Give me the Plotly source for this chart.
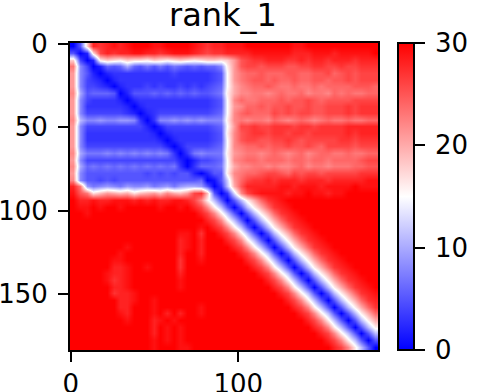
import plotly.graph_objects as go

TITLE = "rank_1"
N_RESIDUES = 184
CELL = 4
X_TICKS = [0, 100]
Y_TICKS = [0, 50, 100, 150]
CBAR_TICKS = [0, 10, 20, 30]
BWR = [[0, "#0000ff"], [0.5, "#ffffff"], [1, "#ff0000"]]

# Estimated values, one base-31 digit per 4x4 residue cell (0-9, a=10 ... u=30)
ROWS = [
    "05isrststu uuttuuuuts rsstttuuuu uuuttuuuuu uuuuuu",
    "502hqsrsst tssrstttsr qrrssssttt tttsssttts tttttu",
    "i402gihgih hgihghihgh iihilpqrrs ssrrsrssrs ssrsss",
    "n8402656a6 5757576565 668glpqqpq qqppqqrrqq rqqrrr",
    "l852023333 3333343333 345flnoopo ooppooppqo pqpqqq",
    "l843202333 3333333333 345flnoppo poopooppop pqpqqq",
    "l844320233 3434334343 456fkmnoop onnonnonoo oopppo",
    "ma56665025 5565656565 567gkmmnnm nonnomnnmo nonnoo",
    "l843333202 3333333333 345fmonnoo opoppqpopp ppqqqq",
    "l833333320 2333333333 345flmoopo ppqppqppqq qrqrrr",
    "l844444432 0234444444 456fmopooo qpqpqqppqq qrqrrr",
    "mb88988998 3038898989 888gmnmnnm onmnonmnon nonnoo",
    "l844444444 4202444444 456flqqrqq rrrqrrqrrr rsssss",
    "l833333333 3320233333 345gmpqrrq rrqrrqrrrr rsrsss",
    "l833333333 3332023333 345fmpqqpp qqrqpqqqqq rrqrrr",
    "l844444444 4444202444 456fmnoopo ppqppqpoqq qqpqqq",
    "ma77787878 7878730378 777glmnnmn onmnomnoon nonnoo",
    "l844444444 4444442024 456fmnoono oonoonoono ooopqq",
    "ma67676767 6767673036 667fkmmnnm nmmnomnnmn nnoopp",
    "l855555555 5454545520 255gmnoopq qpoqpqqpqq qqqrrr",
    "m855454555 5555555556 015cloqrrs rsssrsssrs sssstt",
    "sn97898798 8978979aa9 503bkpssss sttstttstt ttuttt",
    "tpnhjlkjkh jkljmkjlqr j503dmqstt ttsttuttst tuuuuu",
    "usstssttts tstssttsqm gb505bgkor stuuuuuuuu uuuuuu",
    "uttutuutuu uuutuutusq mgb505bgko rstuuuuuuu uuuuuu",
    "uutuuuuuuu uuuuuuuuus qmgb505bgk orstuuuuuu uuuuuu",
    "uuuuuuuuuu uuuuuuuuuu sqmgb505bg korstuuuuu uuuuuu",
    "uuuuuuuuuu uuuuuuuuut usqmgb505b gkorstuuuu uuuuuu",
    "uuuuuuuuuu uuuuuuttur uusqmgb505 bgkorstuuu uuuuuu",
    "uuuuuuuuuu uuuuuustus uuusqmgb50 5bgkorstuu uuuuuu",
    "uuuuuuuutu uuuuuustus uuuusqmgb5 05bgkorstu uuuuuu",
    "uuuuuuutuu uuuuuusuus uuuuusqmgb 505bgkorst uuuuuu",
    "uuuuuuttuu uuuuuuruut uuuuuusqmg b505bgkors tuuuuu",
    "uuuuuusstu utuuuuruuu uuuuuuusqm gb505bgkor stuuuu",
    "uuuuutsstu uuuuuusuuu uuuuuuuusq mgb505bgko rstuuu",
    "uuuuutrstu uuuuuutuuu uuuuuuuuus qmgb505bgk orstuu",
    "uuuuuusstu uuuuuutuuu uuuuuuuuuu sqmgb505bg korstu",
    "uuuuuursst uuuuuuuuuu uuuuuuuuuu usqmgb505b gkorst",
    "uuuuuuusst uutuuuuuuu uuuuuuuuuu uusqmgb505 bgkors",
    "uuuuuuussu uutuuuuuut uuuuuuuuuu uuusqmgb50 5bgkor",
    "uuuuuuutsu uutususuut uuuuuuuuuu uuuusqmgb5 05bgko",
    "uuuuuuuutu uustutuuuu uuuuuuuuuu uuuuusqmgb 505bgk",
    "uuuuuuuuuu uusututuuu uuuuuuuuuu uuuuuusqmg b505bg",
    "uuuuuuuuuu uusututuuu uuuuuuuuuu uuuuuuusqm gb505b",
    "uuuuuuuuuu uutututuuu uuuuuuuuuu uuuuuuuusq mgb505",
    "uuuuuuuuuu uutuuuttuu uuuuuuuuuu uuuuuuuuus qmgb50",
]

z = [[int(ch, 31) for ch in row.replace(" ", "")] for row in ROWS]
for i, r in enumerate(z):
    assert len(r) == 46, (i, len(r))
centers = [CELL * i + 1.5 for i in range(len(z))]

FONT = "DejaVu Sans"
fig = go.Figure(go.Heatmap(
    z=z, x=centers, y=centers, zmin=0, zmax=30, colorscale=BWR, zsmooth="best",
    colorbar=dict(
        x=1.065, xanchor="left", xpad=0, y=0.5, yanchor="middle", ypad=0,
        len=1, lenmode="fraction", thickness=16, thicknessmode="pixels",
        outlinecolor="black", outlinewidth=2, borderwidth=0,
        tickmode="array", tickvals=CBAR_TICKS, ticktext=[f"\u2009{t}" for t in CBAR_TICKS],
        ticks="outside", ticklen=10, tickwidth=2, tickcolor="black",
        tickfont=dict(family=FONT, size=26, color="black"),
    ),
))
axis = dict(
    showgrid=False, zeroline=False, mirror=True, showline=True, linecolor="black", linewidth=2,
    ticks="outside", ticklen=10, tickwidth=2, tickcolor="black",
    tickfont=dict(family=FONT, size=26, color="black"), tickmode="array",
)
fig.update_xaxes(range=[-0.5, N_RESIDUES - 0.5], tickvals=X_TICKS, **axis)
fig.update_yaxes(range=[N_RESIDUES - 0.5, -0.5], tickvals=Y_TICKS, ticklabelstandoff=5, **axis)
fig.update_layout(
    width=478, height=392, autosize=False, paper_bgcolor="white", plot_bgcolor="white",
    margin=dict(l=70, r=100, t=43, b=42, autoexpand=False),
    title=dict(text=TITLE, x=223 / 478, xanchor="center", y=0.963, yanchor="middle",
               font=dict(family=FONT, size=32, color="black")),
)
fig.write_html("out.html", config={"displayModeBar": False},
               post_script="document.body.style.margin='0';")
